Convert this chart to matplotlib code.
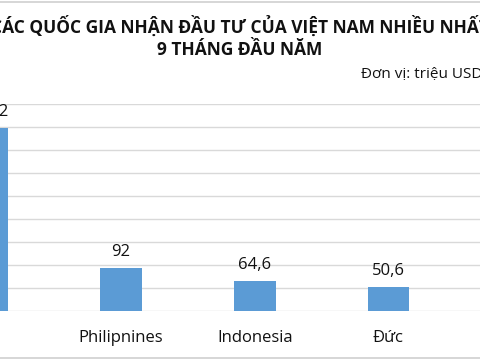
import matplotlib.pyplot as plt
from matplotlib.lines import Line2D

plt.rcParams['font.family'] = ['Open Sans', 'DejaVu Sans']

# data (first country is cut off at the left edge of the picture)
countries = ['Úc', 'Philipnines', 'Indonesia', 'Đức']
values = [397.2, 92, 64.6, 50.6]
labels = ['397,2', '92', '64,6', '50,6']

W, H = 480, 360
fig = plt.figure(figsize=(W / 100, H / 100), dpi=100)

# plot area spans the whole width, baseline at y=310.7 px, 450 at y=104 px
ax = fig.add_axes([0, 1 - 310.7 / H, 1, (310.7 - 104) / H])
x = list(range(len(countries)))
ax.bar(x, values, width=0.312, color='#5b9bd5', zorder=3)
ax.set_xlim(0.095, 3.685)
ax.set_ylim(0, 450)
ax.set_yticks(range(0, 451, 50))
ax.yaxis.grid(True, color='#d9d9d9', linewidth=1.0)
ax.set_axisbelow(True)
for s in ax.spines.values():
    s.set_visible(False)
ax.tick_params(length=0, labelleft=False, labelbottom=False)

for xi, v, lab in zip(x, values, labels):
    ax.annotate(lab, (xi, v), xytext=(0, 6), textcoords='offset points',
                ha='center', va='bottom', fontsize=12, color='#111111',
                annotation_clip=False)
    ax.annotate(countries[xi], (xi, 0), xytext=(0, -19.5), textcoords='offset points',
                ha='center', va='center', fontsize=12, color='#111111',
                annotation_clip=False)

fig.text(0.5, 1 - 26 / H, 'CÁC QUỐC GIA NHẬN ĐẦU TƯ CỦA VIỆT NAM NHIỀU NHẤT',
         ha='center', va='center', fontsize=12.5, fontweight='bold', color='#111111')
fig.text(0.5, 1 - 50 / H, '9 THÁNG ĐẦU NĂM',
         ha='center', va='center', fontsize=12.5, fontweight='bold', color='#111111')
fig.text(482 / W, 1 - 74 / H, 'Đơn vị: triệu USD',
         ha='right', va='center', fontsize=11, color='#111111')

# chart border lines at top and bottom
fig.add_artist(Line2D([0, 1], [1 - 1.5 / H, 1 - 1.5 / H], color='#d0d0d0', lw=1.2))
fig.add_artist(Line2D([0, 1], [1 - 358 / H, 1 - 358 / H], color='#d0d0d0', lw=1.2))

fig.savefig('out.png', dpi=100)
